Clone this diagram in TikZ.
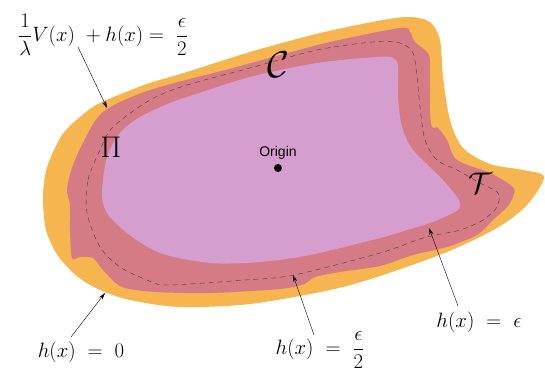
\documentclass[tikz,border=0pt]{standalone}
\usepackage{amsmath}
\usepackage{fontspec}
\newfontfamily\originfont{Liberation Sans}
\usepackage{tikz}
\usetikzlibrary{arrows.meta, positioning}

\definecolor{sandorange}{RGB}{246,181,78}
\definecolor{rosered}{RGB}{212,123,133}
\definecolor{lilac}{RGB}{213,158,207}

\begin{document}
\begin{tikzpicture}[
    x=1pt, y=-1pt,
    outer/.style={fill=sandorange},
    band/.style={fill=rosered},
    inner/.style={fill=lilac},
    level/.style={draw=black!75, thin, dash pattern=on 5pt off 4pt},
    dot/.style={circle, fill=black, inner sep=0pt, minimum size=8pt},
    tag/.style={font=\originfont\fontsize{14}{14}\selectfont, inner sep=1pt},
    region/.style={font=\Huge, inner sep=0pt},
    mathlabel/.style={font=\huge, inner sep=1pt},
    pointer/.style={draw, -{Stealth[length=7pt, width=4pt]}, thin}
]
\useasboundingbox (0,0) rectangle (545,372);

% Regions
\fill[outer] plot[smooth cycle, tension=0.5] coordinates {(43,197) (47,167) (62,135) (80,117) (100,103) (147,84) (187,72) (250,52) (320,33) (383,20) (410,17) (430,22) (440,40) (443,77) (450,120) (463,148) (490,164) (523,170) (544,177) (527,205) (497,228) (447,252) (380,276) (330,290) (250,304) (180,307) (130,300) (100,290) (78,277) (58,256) (46,230)};
\fill[band] plot[smooth cycle, tension=0.5] coordinates {(67,190) (72,168) (83,143) (103,112) (150,90) (233,68) (273,57) (330,42) (400,28) (410,32) (415,42) (427,52) (430,62) (430,110) (432,127) (438,128) (447,140) (457,160) (490,173) (513,187) (513,197) (507,207) (493,220) (477,235) (447,247) (413,255) (380,266) (340,272) (315,277) (304,284) (280,289) (210,293) (157,292) (122,287) (103,270) (93,258) (80,257) (72,258) (70,230) (70,205)};
\fill[inner] plot[smooth cycle, tension=0.5] coordinates {(102,193) (107,157) (120,133) (140,117) (170,103) (193,95) (250,77) (317,63) (377,57) (393,58) (398,66) (398,97) (402,127) (413,150) (440,177) (457,197) (460,207) (453,213) (430,223) (407,230) (380,238) (310,255) (260,262) (210,263) (160,253) (127,233) (107,213)};
\draw[level] plot[smooth cycle, tension=0.5] coordinates {(87,213) (88,180) (100,150) (113,127) (150,100) (187,85) (250,68) (317,50) (373,42) (400,43) (413,53) (417,77) (420,107) (425,140) (437,160) (457,170) (480,183) (498,193) (497,207) (483,220) (460,230) (423,238) (380,253) (294,275) (245,280) (168,285) (147,280) (120,267) (100,247)};

% Nodes
\node[dot] (origin) at (278,168) {};
\node[tag, above=3pt of origin] (origintext) {Origin};

\node[region] (setC) at (278,65) {\scalebox{1.5}{$\mathcal{C}$}};
\node[region] (setPi) at (111,147) {\scalebox{1.2}{$\Pi$}};
\node[region] (setT) at (480,183) {\scalebox{1.2}{$\mathcal{T}$}};

\node[mathlabel] (lvlabel) at (103,35) {$\dfrac{1}{\lambda}V(x)\ + h(x) =\ \dfrac{\epsilon}{2}$};
\node[mathlabel] (hzero) at (81,352) {$h(x)\ =\ 0$};
\node[mathlabel] (hhalf) at (320,350) {$h(x)\ =\ \dfrac{\epsilon}{2}$};
\node[mathlabel] (heps) at (479,322) {$h(x)\ =\ \epsilon$};

\coordinate (tiplv) at (107,108);
\coordinate (tipzero) at (105,293);
\coordinate (tiphalf) at (293,275);
\coordinate (tipeps) at (429,228);

% Edges
\path[pointer] ([xshift=-25pt, yshift=-12pt]lvlabel.center) -- (tiplv);
\path[pointer] ([xshift=-10pt, yshift=15pt]hzero.center) -- (tipzero);
\path[pointer] ([xshift=-6pt, yshift=15pt]hhalf.center) -- (tiphalf);
\path[pointer] ([xshift=-21pt, yshift=16pt]heps.center) -- (tipeps);
\end{tikzpicture}
\end{document}
